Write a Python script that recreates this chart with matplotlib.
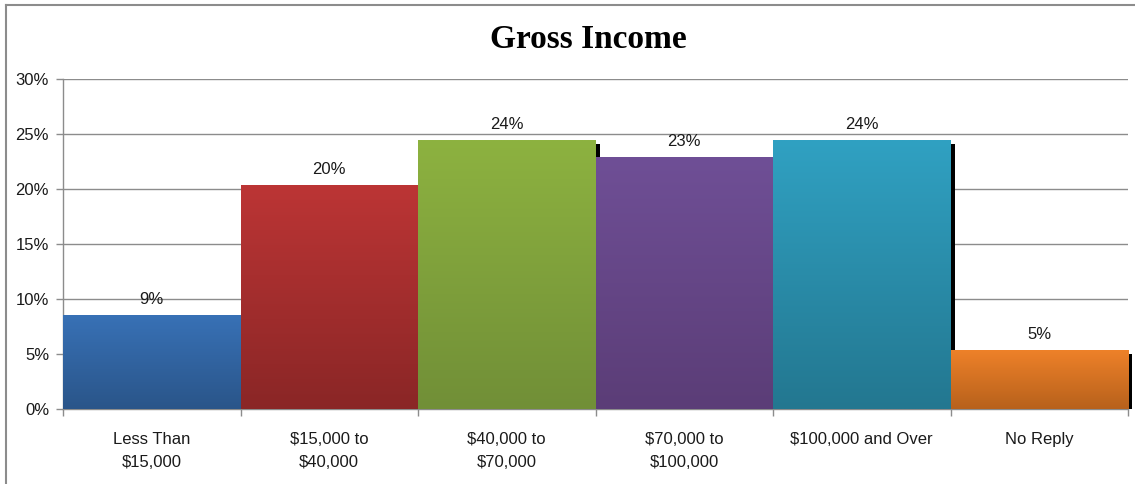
"""Gross Income bar chart (Excel-style, gradient bars with drop shadow)."""

import numpy as np
import matplotlib

matplotlib.use("Agg")
import matplotlib.pyplot as plt
from matplotlib.colors import LinearSegmentedColormap
from matplotlib.lines import Line2D

categories = [
    "Less Than\n$15,000",
    "$15,000 to\n$40,000",
    "$40,000 to\n$70,000",
    "$70,000 to\n$100,000",
    "$100,000 and Over",
    "No Reply",
]
values = [8.47, 20.3, 24.35, 22.8, 24.35, 5.3]
value_labels = ["9%", "20%", "24%", "23%", "24%", "5%"]
top_colors = ["#3871b6", "#bc3535", "#8db240", "#6f4f96", "#30a1c2", "#ee8129"]
bottom_colors = ["#2a5589", "#8a2626", "#718f37", "#5b3d77", "#237790", "#b7611c"]
yticks = [0, 5, 10, 15, 20, 25, 30]

W, H, DPI = 1135, 484, 100
plt.rcParams["font.family"] = ["Liberation Sans", "DejaVu Sans"]

fig = plt.figure(figsize=(W / DPI, H / DPI), dpi=DPI)
ax_l, ax_r, ax_b, ax_t = 63, 1128, 409.3, 79
ax = fig.add_axes([ax_l / W, 1 - ax_b / H, (ax_r - ax_l) / W, (ax_b - ax_t) / H])

ax.set_xlim(-0.5, len(categories) - 0.5)
ax.set_ylim(0, 30)

# pixel -> data conversion for the drop shadow (4px right, 3px down)
px_x = (len(categories)) / (ax_r - ax_l)
px_y = 30 / (ax_b - ax_t)
sdx, sdy = 4 * px_x, 3 * px_y

x = np.arange(len(categories))
grad = np.linspace(0, 1, 256).reshape(-1, 1)
for i, v in enumerate(values):
    # shadow
    ax.bar(x[i] + sdx, v - sdy, width=1.0, bottom=0, color="black",
           zorder=2, clip_on=False, linewidth=0)
    cmap = LinearSegmentedColormap.from_list(f"g{i}", [bottom_colors[i], top_colors[i]])
    ax.imshow(grad, cmap=cmap, origin="lower", aspect="auto",
              extent=(x[i] - 0.5, x[i] + 0.5, 0, v), zorder=3, interpolation="bilinear")
    ax.annotate(value_labels[i], (x[i], v), xytext=(0, 12), textcoords="offset points",
                ha="center", va="center", fontsize=12, color="#1a1a1a", zorder=4)

ax.set_xlim(-0.5, len(categories) - 0.5)
ax.set_ylim(0, 30)
ax.set_aspect("auto")

grid_c = "#8c8c8c"
ax.set_yticks(yticks)
ax.set_yticklabels([f"{t}%" for t in yticks], fontsize=12, color="#1a1a1a")
ax.yaxis.grid(True, color=grid_c, linewidth=1.0, zorder=0)
ax.set_axisbelow(True)
ax.tick_params(axis="y", length=5, width=1, color=grid_c, pad=5)

ax.set_xticks(x)
ax.set_xticklabels(categories, fontsize=12, color="#1a1a1a", linespacing=1.7)
ax.set_xticks(np.arange(-0.5, len(categories)), minor=True)
ax.tick_params(axis="x", which="major", length=0, pad=16)
ax.tick_params(axis="x", which="minor", length=5, width=1, color=grid_c)

for side in ("top", "right"):
    ax.spines[side].set_visible(False)
for side in ("left", "bottom"):
    ax.spines[side].set_color(grid_c)
    ax.spines[side].set_linewidth(1.0)

fig.text(588 / W, 1 - 48 / H, "Gross Income", ha="center", va="baseline",
         fontsize=24, fontweight="bold", family="Liberation Serif")

# chart frame (only top and left edges visible in the crop)
frame_kw = dict(color="#8c8c8c", linewidth=1.5, transform=fig.transFigure)
fig.add_artist(Line2D([6 / W, 6 / W], [0, 1 - 5 / H], **frame_kw))
fig.add_artist(Line2D([6 / W, 1], [1 - 5 / H, 1 - 5 / H], **frame_kw))

fig.savefig("out.png", dpi=DPI, facecolor="white")
